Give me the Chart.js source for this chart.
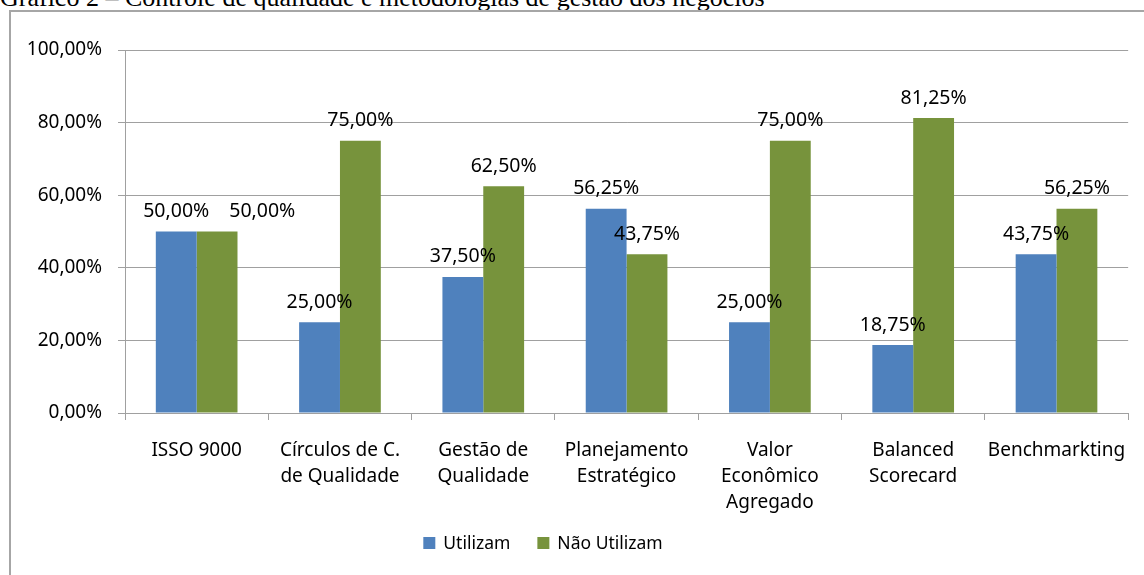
<!DOCTYPE html>
<html>
<head>
<meta charset="utf-8">
<script src="https://cdn.jsdelivr.net/npm/chart.js@4.4.1/dist/chart.umd.min.js"></script>
<style>
  html, body { margin: 0; padding: 0; background: #fff; overflow: hidden; }
  body { width: 1144px; height: 575px; position: relative; }
  #title {
    position: absolute; left: 0; top: -15px; white-space: nowrap;
    font-family: "Liberation Serif", "Times New Roman", serif;
    font-size: 26px; line-height: 26px; color: #000;
  }
  #frame {
    position: absolute; left: 9px; top: 10px; width: 2000px; height: 2000px;
    border-left: 2px solid #a6a6a6; border-top: 2px solid #a6a6a6;
  }
  #chart { position: absolute; left: 0; top: 0; }
</style>
</head>
<body>
<div id="title">Gráfico 2 – Controle de qualidade e metodologias de gestão dos negócios</div>
<div id="frame"></div>
<canvas id="chart" width="1144" height="575"></canvas>
<script>
const categories = [
  ['ISSO 9000'],
  ['Círculos de C.', 'de Qualidade'],
  ['Gestão de', 'Qualidade'],
  ['Planejamento', 'Estratégico'],
  ['Valor', 'Econômico', 'Agregado'],
  ['Balanced', 'Scorecard'],
  ['Benchmarkting']
];
const utilizam = [50, 25, 37.5, 56.25, 25, 18.75, 43.75];
const naoUtilizam = [50, 75, 62.5, 43.75, 75, 81.25, 56.25];
const seriesNames = ['Utilizam', 'Não Utilizam'];
const seriesColors = ['#4f81bd', '#77933c'];

const FONT = '"Noto Sans", "Open Sans", sans-serif';
const GRID = '#a0a0a0';

function pct(v) {
  return v.toFixed(2).replace('.', ',') + '%';
}

// value labels above each bar, nudged right when two would overlap
const barLabels = {
  id: 'barLabels',
  afterDatasetsDraw(chart) {
    const ctx = chart.ctx;
    ctx.save();
    ctx.font = '19.5px ' + FONT;
    ctx.fillStyle = '#000';
    ctx.textAlign = 'center';
    ctx.textBaseline = 'middle';
    const placed = [];
    const h = 20;
    chart.data.datasets.forEach((ds, di) => {
      chart.getDatasetMeta(di).data.forEach((bar, i) => {
        const text = pct(ds.data[i]);
        const w = ctx.measureText(text).width;
        let x = bar.x;
        const y = bar.y - 20;
        placed.forEach(p => {
          if (Math.abs(p.y - y) < h && x - w / 2 < p.right && x + w / 2 > p.left) {
            x = p.right + 20 + w / 2;
          }
        });
        ctx.fillText(text, x, y);
        placed.push({ left: x - w / 2, right: x + w / 2, y: y });
      });
    });
    ctx.restore();
  }
};

const bottomLegend = {
  id: 'bottomLegend',
  afterDraw(chart) {
    const ctx = chart.ctx;
    ctx.save();
    ctx.font = '17.5px ' + FONT;
    ctx.textBaseline = 'middle';
    ctx.fillStyle = '#000';
    const box = 12, gap = 8, itemGap = 27;
    const widths = seriesNames.map(n => box + gap + ctx.measureText(n).width);
    const total = widths.reduce((a, b) => a + b, 0) + itemGap * (widths.length - 1);
    let x = 543 - total / 2;
    const y = 543;
    seriesNames.forEach((n, i) => {
      ctx.fillStyle = seriesColors[i];
      ctx.fillRect(x, y - box / 2, box, box);
      ctx.fillStyle = '#000';
      ctx.fillText(n, x + box + gap, y + 1);
      x += widths[i] + itemGap;
    });
    ctx.restore();
  }
};

new Chart(document.getElementById('chart'), {
  type: 'bar',
  data: {
    labels: categories,
    datasets: [
      { label: seriesNames[0], data: utilizam, backgroundColor: seriesColors[0] },
      { label: seriesNames[1], data: naoUtilizam, backgroundColor: seriesColors[1] }
    ]
  },
  options: {
    responsive: false,
    devicePixelRatio: 1,
    animation: false,
    categoryPercentage: 0.57,
    barPercentage: 1,
    layout: { padding: { top: 50, right: 12, left: 0, bottom: 0 } },
    plugins: {
      legend: { display: false },
      tooltip: { enabled: false }
    },
    scales: {
      x: {
        grid: { drawOnChartArea: false, drawTicks: true, tickLength: 7, color: GRID, offset: true },
        border: { display: true, color: GRID, width: 1 },
        ticks: {
          color: '#000', padding: 18, maxRotation: 0, autoSkip: false,
          font: { family: FONT, size: 19, lineHeight: 26 / 19 }
        },
        afterFit(scale) { scale.height = 162; }
      },
      y: {
        min: 0, max: 100,
        grid: { color: GRID, tickLength: 7, drawTicks: true },
        border: { display: true, color: GRID, width: 1 },
        ticks: {
          stepSize: 20, color: '#000', padding: 16,
          font: { family: FONT, size: 19 },
          callback: v => pct(v)
        },
        afterFit(scale) { scale.width = 125; }
      }
    }
  },
  plugins: [barLabels, bottomLegend]
});
</script>
</body>
</html>
